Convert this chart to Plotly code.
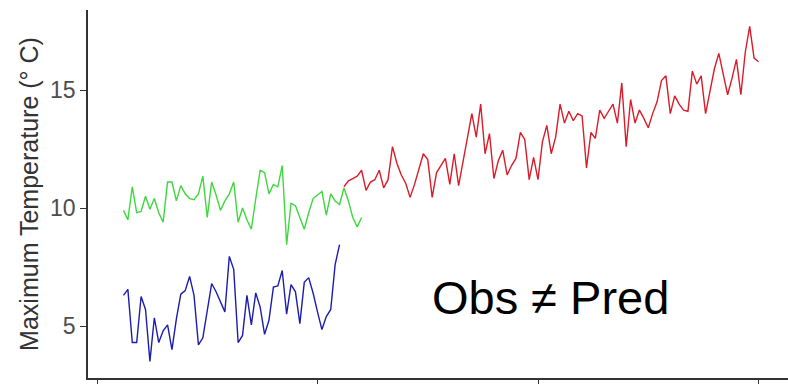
import plotly.graph_objects as go

# ---- data ----
green_years = list(range(1906, 1961))
green_vals = [9.9, 9.5, 10.9, 9.8, 9.85, 10.5, 9.95, 10.4, 9.8, 9.4,
              11.1, 11.1, 10.3, 10.95, 10.6, 10.4, 10.35, 10.6, 11.35, 9.6,
              11.1, 10.55, 9.9, 10.3, 10.6, 11.1, 9.4, 10.0, 9.5, 9.1,
              10.4, 11.6, 11.5, 10.6, 11.0, 10.9, 11.8, 8.45, 10.2, 10.1,
              9.6, 9.1, 9.8, 10.4, 10.55, 10.7, 9.7, 10.6, 10.3, 10.15,
              10.85, 10.3, 9.6, 9.2, 9.6]

blue_years = list(range(1906, 1956))
blue_vals = [6.3, 6.55, 4.3, 4.3, 6.25, 5.7, 3.5, 5.35, 4.3, 4.8,
             5.05, 4.0, 5.3, 6.35, 6.5, 7.1, 6.3, 4.2, 4.5, 5.6,
             6.8, 6.45, 6.0, 5.6, 7.95, 7.4, 4.3, 4.6, 6.3, 5.05,
             6.4, 5.8, 4.65, 5.25, 6.65, 6.7, 7.35, 5.5, 6.75, 6.45,
             5.1, 6.85, 7.05, 6.4, 5.6, 4.85, 5.4, 5.7, 7.6, 8.45]

red_years = list(range(1956, 2051))
red_vals = [10.9, 11.15, 11.25, 11.35, 11.6, 10.75, 11.1, 11.2, 11.6, 10.85,
            11.2, 12.6, 11.9, 11.4, 11.05, 10.45, 11.0, 11.7, 12.3, 12.05,
            10.45, 11.5, 11.8, 12.1, 11.0, 12.3, 10.95, 12.0, 12.9, 14.0,
            13.0, 14.4, 12.3, 13.15, 11.25, 12.0, 12.45, 11.4, 11.8, 12.1,
            13.2, 12.9, 11.2, 12.15, 11.2, 12.8, 13.5, 12.3, 13.0, 14.4,
            13.6, 14.1, 13.7, 14.0, 13.9, 11.7, 13.2, 12.95, 14.15, 13.8,
            14.1, 14.4, 13.6, 15.3, 12.6, 14.6, 13.6, 14.15, 13.8, 13.4,
            14.0, 14.5, 15.4, 15.6, 14.0, 14.75, 14.4, 14.15, 14.1, 15.8,
            15.25, 15.6, 14.0, 14.9, 15.9, 16.55, 15.6, 14.8, 15.5, 16.3,
            14.8, 16.6, 17.7, 16.35, 16.2]

x_ticks = [1900, 1950, 2000, 2050]
y_ticks = [5, 10, 15]
y_title = "Maximum Temperature (° C)"
note = "Obs ≠ Pred"

# ---- figure ----
fig = go.Figure()
fig.add_trace(go.Scatter(x=green_years, y=green_vals, mode="lines",
                         line=dict(color="#3ed83e", width=1.4), showlegend=False))
fig.add_trace(go.Scatter(x=blue_years, y=blue_vals, mode="lines",
                         line=dict(color="#1c1cae", width=1.4), showlegend=False))
fig.add_trace(go.Scatter(x=red_years, y=red_vals, mode="lines",
                         line=dict(color="#d91c2a", width=1.4), showlegend=False))

fig.add_annotation(x=2002.9, y=6.2, xref="x", yref="y", text=note,
                   showarrow=False, xanchor="center", yanchor="middle",
                   font=dict(family="Liberation Sans, Arial, sans-serif",
                             size=47, color="#000000"))

fig.update_layout(
    width=788, height=384,
    margin=dict(l=88, r=0, t=10, b=6, autoexpand=False),
    paper_bgcolor="white", plot_bgcolor="white",
    font=dict(family="Liberation Sans, Arial, sans-serif"),
)
fig.update_xaxes(range=[1897.96, 2056.69], tickvals=x_ticks, showticklabels=False,
                 ticks="outside", ticklen=6, tickcolor="#333333", tickwidth=1.2,
                 showline=True, linecolor="#333333", linewidth=1.5,
                 showgrid=False, zeroline=False, automargin=False)
fig.update_yaxes(range=[2.797, 18.39], tickvals=y_ticks,
                 ticks="outside", ticklen=6, tickcolor="#333333", tickwidth=1.2,
                 tickfont=dict(size=23, color="#4d4d4d"),
                 showline=True, linecolor="#333333", linewidth=1.5,
                 showgrid=False, zeroline=False, automargin=False,
                 title=dict(text=y_title, font=dict(size=25, color="#333333"),
                            standoff=4))

fig.write_html("out.html")
